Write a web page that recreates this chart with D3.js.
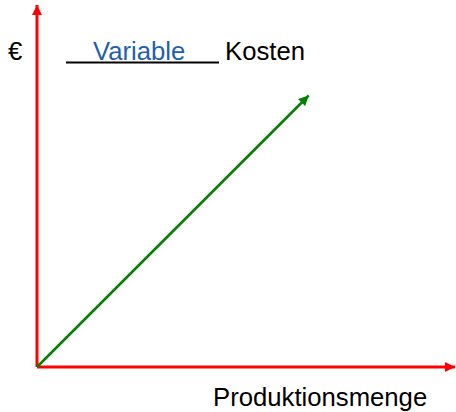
<html>
<head>
<meta charset="utf-8">
<style>
  body { margin: 0; background: #fff; }
  text { font-family: 'Liberation Sans', Arial, sans-serif; font-size: 25.7px; }
</style>
</head>
<body>
<script src="https://cdnjs.cloudflare.com/ajax/libs/d3/7.8.5/d3.min.js"></script>
<script>

var width = 456;
var height = 412;

// data
var menge = [0, 65];
var kosten = [0, 75];
var axisMax = 100;
var labels = ['€', 'Variable', 'Kosten', 'Produktionsmenge'];

var svg = d3.select('body').append('svg')
  .attr('width', width)
  .attr('height', height);

var x = d3.scaleLinear().domain([0, axisMax]).range([37, 455]);
var y = d3.scaleLinear().domain([0, axisMax]).range([367, 5]);

var defs = svg.append('defs');
function marker (id, color, w, h) {
  defs.append('marker')
    .attr('id', id)
    .attr('viewBox', '0 0 10 10')
    .attr('refX', 10).attr('refY', 5)
    .attr('markerUnits', 'userSpaceOnUse')
    .attr('markerWidth', w).attr('markerHeight', h)
    .attr('orient', 'auto')
    .append('path')
    .attr('d', 'M0,0L10,5L0,10Z')
    .style('fill', color);
}
marker('redArrow', '#ff0000', 11, 10);
marker('greenArrow', '#008000', 11, 10);

// axes
svg.append('line')
  .attr('x1', x(0)).attr('y1', y(0))
  .attr('x2', x(0)).attr('y2', y(axisMax))
  .style('stroke', '#ff0000').style('stroke-width', 3)
  .attr('marker-end', 'url(#redArrow)');

svg.append('line')
  .attr('x1', x(0)).attr('y1', y(0))
  .attr('x2', x(axisMax)).attr('y2', y(0))
  .style('stroke', '#ff0000').style('stroke-width', 3)
  .attr('marker-end', 'url(#redArrow)');

// variable costs line
var line = d3.line()
  .x(function (d) { return x(d[0]); })
  .y(function (d) { return y(d[1]); });

svg.append('path')
  .datum(d3.zip(menge, kosten))
  .attr('d', line)
  .style('fill', 'none')
  .style('stroke', '#008000').style('stroke-width', 2.5)
  .attr('marker-end', 'url(#greenArrow)');

// labels
svg.append('text').attr('x', 8).attr('y', 60).text(labels[0]);

svg.append('line')
  .attr('x1', 66).attr('y1', 62.5).attr('x2', 219).attr('y2', 62.5)
  .style('stroke', '#000').style('stroke-width', 2);

svg.append('text').attr('x', 93).attr('y', 60)
  .style('fill', '#1f5fad').text(labels[1]);

svg.append('text').attr('x', 225).attr('y', 60).text(labels[2]);

svg.append('text').attr('x', 213).attr('y', 406).text(labels[3]);

</script>
</body>
</html>
